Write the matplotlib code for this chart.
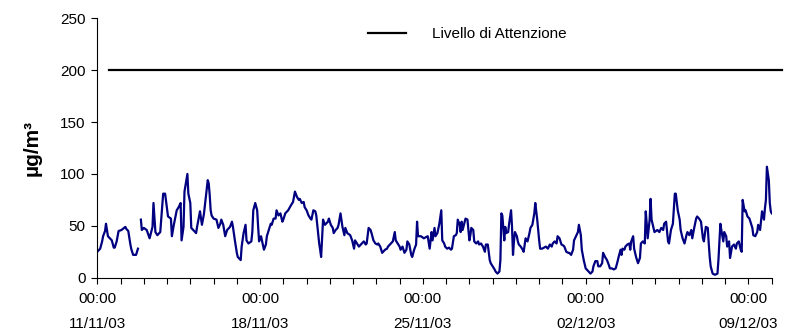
import numpy as np
import matplotlib
matplotlib.use('Agg')
import matplotlib.pyplot as plt
from matplotlib.lines import Line2D

plt.rcParams['font.family'] = ['Liberation Sans', 'DejaVu Sans']

# ore dall'inizio (11/11/03 00:00) e concentrazioni (µg/m3)
ore = [0, 3, 5, 6, 8, 9, 11, 13, 15, 17, 18, 20, 22, 25, 29, 30, 32, 34, 35, 37,
       40, 41, 42, 43, 45, 46, 48, 51, 54, 57, 58, 60, 62, 65, 68, 70, 73, 76, 77, 79,
       82, 84, 86, 87, 89, 90, 93, 94, 96, 97, 99, 102, 103, 106, 108, 110,
       114, 115, 116, 117, 118, 120, 123, 125, 127, 128, 130, 132, 134, 137, 139, 140,
       142, 144, 145, 148, 149, 151, 153, 154, 156, 159, 160, 161, 163, 165, 166, 167,
       169, 172, 174, 175, 177, 179, 180, 182, 184, 185, 187, 189, 191, 192, 194, 196,
       197, 200, 202, 204, 206, 208, 209, 211, 213, 214, 216, 218, 220, 221, 223, 225,
       226, 229, 230, 231, 233, 235,
       238, 239, 241, 243, 244, 246, 248, 249, 251, 253, 255, 256, 258, 261, 263, 265,
       266, 268, 270, 272, 273, 275, 277, 278, 280, 282, 283, 285, 287, 289, 290, 292,
       294, 295, 297, 299, 300, 302, 305, 307, 308, 310, 312, 313, 315, 317, 319, 320,
       322, 324, 325, 327, 329, 330, 331, 334, 337, 341, 343, 345, 346, 348, 349, 351,
       353,
       355, 356, 358, 359, 361, 363, 365, 366, 368, 370, 371, 372, 374, 375, 376, 377,
       380, 382, 383, 384, 385, 386, 388, 389, 391, 393, 394, 396, 398, 400, 401, 403,
       405, 406, 408, 410, 411, 413, 415, 416, 417, 418, 420, 421, 422, 424, 425, 427,
       428, 429, 430, 431, 433, 434, 435, 437, 439, 440, 442, 444, 446, 447, 449, 451,
       452, 454, 456, 457, 459, 463, 465, 467, 469, 470, 472, 474,
       475, 477, 479, 481, 482, 484, 486, 487, 489, 491, 492, 494, 496, 497, 499, 500,
       502, 504, 505, 507, 509, 511, 512, 514, 516, 517, 519, 521, 522, 524, 526, 528,
       529, 531, 533, 535, 537, 538, 540, 541, 542, 544, 545, 547, 549, 550, 551, 553,
       554, 556, 558, 560, 561, 563, 565, 566, 567, 568, 570, 571, 572, 575, 578, 580,
       582, 584, 585, 587, 589, 590, 592,
       594, 596, 597, 599, 601, 602, 604, 606, 608, 609, 611, 613, 614, 616, 618, 619,
       621, 623, 625, 626, 628, 630, 631, 632, 633, 635, 637, 638, 640, 641, 643, 644,
       646, 647, 649, 650, 652, 653, 655, 657, 659, 660, 662, 664, 665, 666, 668, 669,
       671, 673, 676, 677, 679, 681, 682, 684, 686, 688, 689, 690, 691, 693, 694, 695,
       696]

valori = [25, 28, 35, 40, 45, 52, 40, 38, 36, 29, 29, 35, 45, 46, 49, 47, 45, 33, 28, 22,
          22, 25, 28, np.nan, 56, 46, 48, 46, 38, 49, 72, 44, 41, 44, 81, 81, 59, 57, 40, 51,
          65, 68, 72, 36, 49, 83, 100, 81, 72, 48, 46, 43, 49, 64, 51, 61,
          94, 91, 80, 65, 60, 57, 56, 48, 52, 56, 51, 40, 46, 49, 54, 49,
          36, 24, 20, 17, 30, 43, 51, 36, 33, 35, 44, 65, 72, 65, 49, 35,
          40, 27, 32, 40, 46, 52, 51, 57, 57, 65, 60, 62, 54, 56, 62, 64,
          65, 70, 73, 83, 78, 75, 76, 72, 73, 68, 65, 60, 57, 56, 65, 64,
          60, 33, 27, 20, 56, 51,
          54, 57, 51, 48, 43, 46, 48, 51, 62, 49, 41, 48, 43, 41, 36, 28,
          36, 33, 30, 32, 33, 35, 32, 33, 48, 46, 43, 36, 33, 32, 33, 30,
          24, 25, 27, 28, 30, 32, 35, 44, 36, 33, 30, 27, 30, 24, 27, 35,
          32, 22, 20, 27, 32, 54, 40, 40, 38, 40, 28, 44, 36, 48, 40, 43,
          52,
          65, 36, 33, 30, 28, 29, 27, 28, 40, 41, 43, 56, 51, 44, 54, 46,
          57, 56, 46, 36, 41, 48, 46, 35, 33, 35, 32, 33, 30, 25, 32, 32,
          17, 14, 11, 8, 6, 4, 6, 17, 62, 60, 36, 49, 43, 44, 52, 65,
          49, 22, 35, 44, 40, 35, 32, 30, 27, 25, 38, 35, 43, 48, 51, 62,
          72, 56, 36, 28, 28, 30, 28, 32, 30, 33, 35, 33,
          40, 38, 32, 31, 30, 25, 24, 24, 22, 27, 36, 40, 44, 51, 41, 27,
          17, 9, 8, 6, 4, 6, 11, 16, 16, 11, 11, 14, 24, 20, 17, 12,
          9, 9, 8, 9, 16, 20, 27, 22, 28, 27, 30, 32, 33, 27, 35, 40,
          28, 20, 14, 19, 33, 35, 33, 64, 52, 38, 56, 76, 56, 44, 46, 44,
          48, 46, 52, 54, 35, 33, 46,
          52, 81, 81, 65, 56, 46, 38, 33, 41, 44, 41, 46, 38, 48, 57, 59,
          57, 54, 38, 35, 49, 48, 33, 20, 11, 4, 3, 3, 4, 17, 52, 46,
          35, 44, 40, 30, 35, 19, 30, 32, 28, 33, 35, 27, 25, 75, 64, 65,
          59, 57, 48, 41, 40, 44, 51, 46, 64, 56, 67, 75, 107, 94, 72, 64,
          62]

# livello di attenzione
livello = 200
ore_livello = [12, 707]

# asse x
fine_ore = 696
tick_maggiori = [0, 168, 336, 504, 672]
etichette_x = ['00:00\n11/11/03', '00:00\n18/11/03', '00:00\n25/11/03',
               '00:00\n02/12/03', '00:00\n09/12/03']
tick_minori = list(range(0, fine_ore + 1, 24))

fig = plt.figure(figsize=(7.87, 3.33), dpi=100)
ax = fig.add_axes([0.1236, 0.166, 0.857, 0.779])

ax.plot(ore, valori, color='#000080', linewidth=1.6)
ax.plot(ore_livello, [livello, livello], color='#000000', linewidth=1.6,
        clip_on=False)

ax.set_xlim(0, fine_ore)
ax.set_ylim(0, 250)
ax.set_yticks([0, 50, 100, 150, 200, 250])
ax.set_xticks(tick_maggiori)
ax.set_xticklabels(etichette_x, linespacing=1.95)
ax.set_xticks(tick_minori, minor=True)

for lato in ['top', 'right']:
    ax.spines[lato].set_visible(False)
for lato in ['left', 'bottom']:
    ax.spines[lato].set_linewidth(0.8)

ax.tick_params(axis='both', which='both', direction='out', length=4.5,
               width=0.8, labelsize=11, colors='black')
ax.tick_params(axis='x', which='major', pad=6)
ax.tick_params(axis='y', which='major', pad=4)

ax.set_ylabel('µg/m³', fontsize=15, fontweight='bold', labelpad=13)

maniglia = Line2D([], [], color='#000000', linewidth=1.6)
fig.legend([maniglia], ['Livello di Attenzione'], loc='center left',
           bbox_to_anchor=(368 / 787, 1 - 34 / 333), frameon=False,
           fontsize=11, handlelength=2.5, handletextpad=1.7, borderpad=0,
           borderaxespad=0)

plt.savefig('out.png', dpi=100)
plt.close()
